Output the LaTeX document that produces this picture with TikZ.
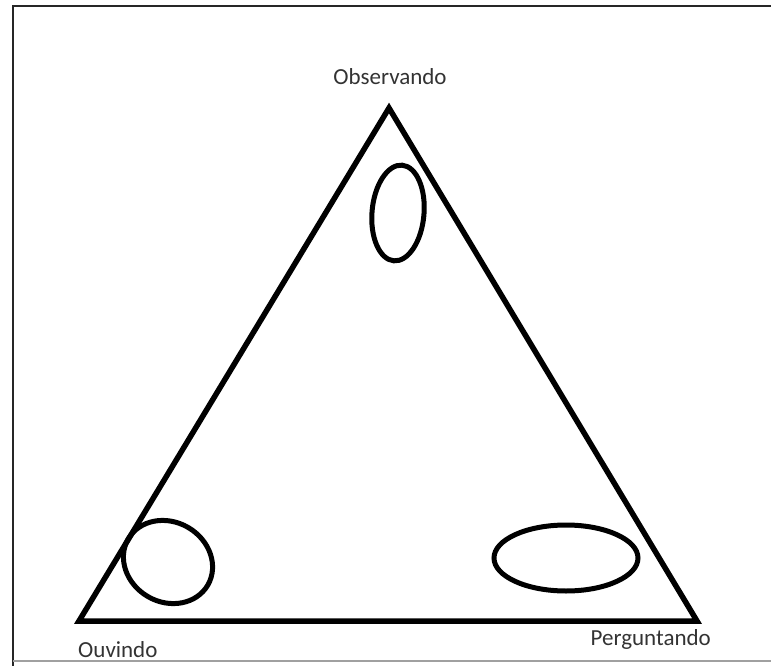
\documentclass[tikz,border=0pt]{standalone}
\usepackage{fontspec}
\setmainfont{Carlito}
\usetikzlibrary{positioning}
\definecolor{labelgray}{HTML}{333333}
\definecolor{framegray}{HTML}{A0A0A0}
\tikzset{
  stroke/.style={line width=5.5pt,line join=miter,line cap=round},
  loop/.style={line width=5pt},
  corner/.style={font=\fontsize{23}{27}\selectfont,text=labelgray,inner sep=0pt}
}
\begin{document}
\begin{tikzpicture}[x=1pt,y=-1pt]
\useasboundingbox (0,0) rectangle (771,666);
% moldura
\draw[line width=2pt,black!85] (771,6) -- (13,6) -- (13,666);
\draw[line width=1.5pt,framegray] (13,661) -- (771,661);
% vertices
\coordinate (top) at (389,108);
\coordinate (left) at (79,621);
\coordinate (right) at (697,621);
\draw[stroke] (top) -- (right) -- (left) -- cycle;
% rotulos
\node[corner,anchor=base] (obs) at (390,85) {Observando};
\node[corner,anchor=base west] (ouv) at (78,657) {Ouvindo};
\node[corner,anchor=base east] (perg) at (711,645) {Perguntando};
% elipses
\draw[loop,rotate around={-5:(398,213)}] (398,213) ellipse (26pt and 48pt);
\draw[loop,rotate around={-30:(168,562)}] (168,562) ellipse (46pt and 40pt);
\draw[loop] (566,558) ellipse (72pt and 33pt);
\end{tikzpicture}
\end{document}
